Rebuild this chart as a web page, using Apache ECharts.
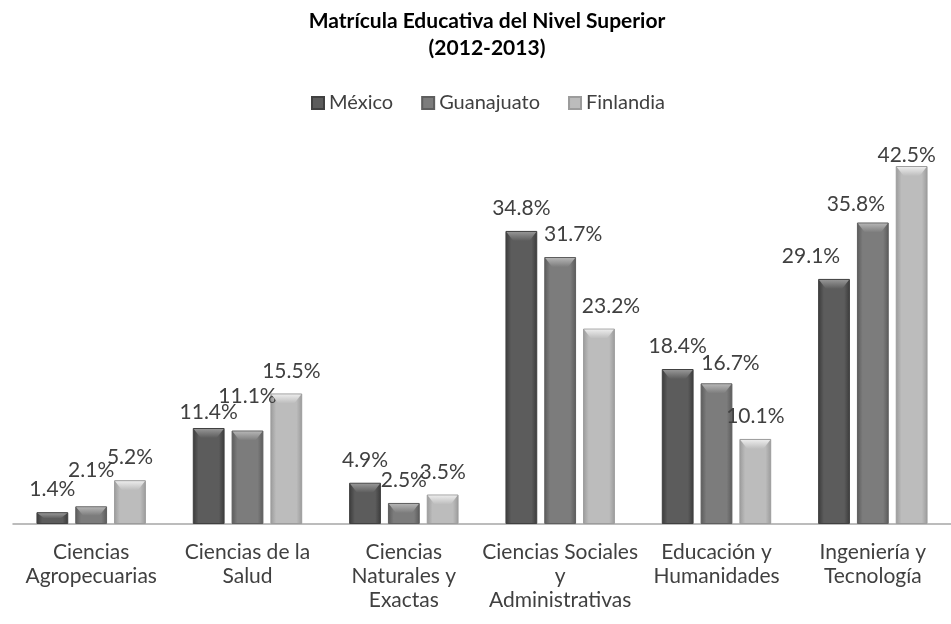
<!DOCTYPE html>
<html>
<head>
<meta charset="utf-8">
<script src="https://cdn.jsdelivr.net/npm/echarts@6/dist/echarts.min.js"></script>
<style>
  html, body { margin: 0; padding: 0; background: #fff; }
  #chart { width: 951px; height: 624px; }
</style>
</head>
<body>
<div id="chart"></div>
<script>
// datos
const categories = [
  'Ciencias\nAgropecuarias',
  'Ciencias de la\nSalud',
  'Ciencias\nNaturales y\nExactas',
  'Ciencias Sociales\ny\nAdministrativas',
  'Educación y\nHumanidades',
  'Ingeniería y\nTecnología'
];
const seriesNames = ['México', 'Guanajuato', 'Finlandia'];
const mexico     = [1.4, 11.4, 4.9, 34.8, 18.4, 29.1];
const guanajuato = [2.1, 11.1, 2.5, 31.7, 16.7, 35.8];
const finlandia  = [5.2, 15.5, 3.5, 23.2, 10.1, 42.5];

// desplazamientos de etiquetas (como en el original de Excel)
const offMexico     = [[0, 0], [0, 7], [0, 0], [0, 0], [0, 0], [-23, 0]];
const offGuanajuato = [[0, -14], [0, -12], [0, 0], [13, 0], [14, 2], [-17, 4]];
const offFinlandia  = [[0, 0], [5, 0], [0, 0], [12, 0], [0, 0], [-5, 12]];

const FONT = 'Lato, "Noto Sans", sans-serif';
const BAR_GAP = 0.22;
const CAT_GAP = 0.30;

// colores: borde, centro, brillo del bisel
const palette = [
  { edge: '#3a3a3a', mid: '#5c5c5c', border: '#404040', light: '#959595' },
  { edge: '#5a5a5a', mid: '#7c7c7c', border: '#5e5e5e', light: '#b4b4b4' },
  { edge: '#9a9a9a', mid: '#bcbcbc', border: '#9c9c9c', light: '#ebebeb' }
];

function shade(edge, mid) {
  return new echarts.graphic.LinearGradient(0, 0, 1, 0, [
    { offset: 0, color: edge },
    { offset: 0.18, color: mid },
    { offset: 0.82, color: mid },
    { offset: 1, color: edge }
  ]);
}

function makeSeries(name, values, offsets, c) {
  return {
    name: name,
    type: 'bar',
    barGap: (BAR_GAP * 100) + '%',
    barCategoryGap: (CAT_GAP * 100) + '%',
    itemStyle: { color: shade(c.edge, c.mid), borderColor: c.border, borderWidth: 1 },
    label: {
      show: true,
      position: 'top',
      distance: 12,
      color: '#404040',
      fontSize: 21,
      fontFamily: FONT,
      formatter: p => p.value.toFixed(1) + '%'
    },
    data: values.map((v, i) => ({ value: v, label: { offset: offsets[i] } }))
  };
}

// bisel superior de cada barra (efecto 3D del original)
const allValues = [mexico, guanajuato, finlandia];
const bevelData = [];
allValues.forEach((vals, k) => vals.forEach((v, i) => bevelData.push([i, v, k])));

function renderBevel(params, api) {
  const i = api.value(0), v = api.value(1), k = api.value(2);
  const band = api.size([1, 0])[0];
  const n = allValues.length;
  const usable = band * (1 - CAT_GAP);
  const bw = usable / (n + (n - 1) * BAR_GAP);
  const center = api.coord([i, 0]);
  const x0 = center[0] - usable / 2 + k * bw * (1 + BAR_GAP) + 1;
  const x1 = x0 + bw - 2;
  const yTop = api.coord([i, v])[1] + 1;
  const yBase = api.coord([i, 0])[1];
  const h = Math.min(9, (yBase - yTop) / 2);
  const inset = Math.min(7, bw / 4);
  const c = palette[k];
  return {
    type: 'polygon',
    shape: { points: [[x0, yTop], [x1, yTop], [x1 - inset, yTop + h], [x0 + inset, yTop + h]] },
    style: {
      fill: new echarts.graphic.LinearGradient(0, 0, 0, 1, [
        { offset: 0, color: c.light },
        { offset: 1, color: c.mid }
      ])
    }
  };
}

const chart = echarts.init(document.getElementById('chart'));
chart.setOption({
  animation: false,
  title: {
    text: 'Matrícula Educativa del Nivel Superior\n(2012-2013)',
    left: 482,
    top: 3,
    textAlign: 'center',
    textStyle: { fontFamily: FONT, fontSize: 21, fontWeight: 'bold', color: '#000', lineHeight: 27 }
  },
  legend: {
    data: seriesNames,
    top: 88,
    left: 306,
    itemWidth: 12,
    itemHeight: 12,
    itemGap: 28,
    icon: 'rect',
    textStyle: { fontFamily: FONT, fontSize: 20, color: '#404040' }
  },
  grid: { left: 13, right: -10, top: 145, bottom: 100 },
  xAxis: {
    type: 'category',
    data: categories,
    axisLine: { lineStyle: { color: '#a6a6a6', width: 1.5 } },
    axisTick: { show: false },
    axisLabel: {
      interval: 0,
      margin: 16,
      color: '#404040',
      fontSize: 21,
      lineHeight: 24,
      fontFamily: FONT
    }
  },
  yAxis: {
    type: 'value',
    min: 0,
    max: 45,
    show: false,
    splitLine: { show: false }
  },
  series: [
    makeSeries(seriesNames[0], mexico, offMexico, palette[0]),
    makeSeries(seriesNames[1], guanajuato, offGuanajuato, palette[1]),
    makeSeries(seriesNames[2], finlandia, offFinlandia, palette[2]),
    {
      name: 'bisel',
      type: 'custom',
      silent: true,
      z: 3,
      renderItem: renderBevel,
      encode: { x: 0, y: 1 },
      data: bevelData
    }
  ]
});
</script>
</body>
</html>
